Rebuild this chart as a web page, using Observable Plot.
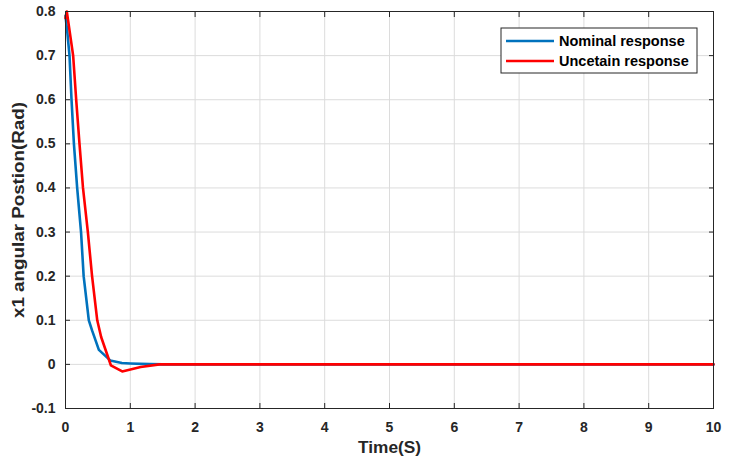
<!DOCTYPE html>
<html>
<head>
<meta charset="utf-8">
<script src="https://cdn.jsdelivr.net/npm/d3@7"></script>
<script src="https://cdn.jsdelivr.net/npm/@observablehq/plot@0.6"></script>
<style>
  html, body { margin: 0; padding: 0; background: #fff; }
  #chart { width: 730px; height: 462px; }
</style>
</head>
<body>
<div id="chart"></div>
<script>
// Nominal response (blue)
const nominalT = [0, 0.03, 0.062, 0.093, 0.13, 0.18, 0.24, 0.28, 0.36, 0.41, 0.515, 0.69, 0.87, 1.0, 1.3, 1.5, 10];
const nominalV = [0.79, 0.75, 0.70, 0.60, 0.50, 0.40, 0.30, 0.20, 0.10, 0.077, 0.033, 0.009, 0.003, 0.002, 0.0005, 0, 0];
// Uncertain response (red)
const uncertT = [0, 0.02, 0.118, 0.165, 0.216, 0.27, 0.345, 0.41, 0.49, 0.55, 0.70, 0.875, 1.16, 1.45, 10];
const uncertV = [0.785, 0.80, 0.70, 0.60, 0.50, 0.40, 0.30, 0.20, 0.10, 0.062, -0.002, -0.016, -0.006, 0, 0];

const seriesNames = ["Nominal response", "Uncetain response"];
const seriesColors = ["#0072BD", "#FF0000"];
const xTicks = [0, 1, 2, 3, 4, 5, 6, 7, 8, 9, 10];
const yTicks = [-0.1, 0, 0.1, 0.2, 0.3, 0.4, 0.5, 0.6, 0.7, 0.8];
const xLabel = "Time(S)";
const yLabel = "x1 angular Postion(Rad)";

const nominal = nominalT.map((t, i) => ({t, v: nominalV[i], s: seriesNames[0]}));
const uncert = uncertT.map((t, i) => ({t, v: uncertV[i], s: seriesNames[1]}));

const fmt = d => String(d);
const FONT = "'Liberation Sans', Arial, sans-serif";

const chart = Plot.plot({
  width: 730,
  height: 462,
  marginLeft: 65,
  marginRight: 17,
  marginTop: 11,
  marginBottom: 54,
  style: {fontFamily: FONT, fontSize: "14px", fontWeight: "bold", color: "#262626", background: "#fff"},
  x: {domain: [0, 10]},
  y: {domain: [-0.1, 0.8]},
  marks: [
    Plot.gridX(xTicks, {stroke: "#dcdcdc", strokeOpacity: 1}),
    Plot.gridY(yTicks, {stroke: "#dcdcdc", strokeOpacity: 1}),
    Plot.axisX(xTicks, {anchor: "bottom", tickSize: -5, tickPadding: 19, tickFormat: fmt, label: xLabel, labelAnchor: "center", labelArrow: "none", labelOffset: 44, fontSize: 14, fill: "#262626"}),
    Plot.axisX(xTicks, {anchor: "top", tickSize: -5, tickFormat: () => "", label: null}),
    Plot.axisY(yTicks, {anchor: "left", tickSize: -5, tickPadding: 15, tickFormat: fmt, label: yLabel, labelAnchor: "center", labelArrow: "none", labelOffset: 53, fontSize: 14, fill: "#262626"}),
    Plot.axisY(yTicks, {anchor: "right", tickSize: -5, tickFormat: () => "", label: null}),
    Plot.line(nominal, {x: "t", y: "v", stroke: seriesColors[0], strokeWidth: 2.6, curve: "linear"}),
    Plot.line(uncert, {x: "t", y: "v", stroke: seriesColors[1], strokeWidth: 2.6, curve: "linear"}),
    Plot.frame({stroke: "#262626", strokeWidth: 1})
  ]
});

document.getElementById("chart").appendChild(chart);

const svg = d3.select(chart);
svg.selectAll("[aria-label='x-axis label'] text")
  .style("font-size", "16px").style("font-weight", "bold")
  .attr("textLength", 63).attr("lengthAdjust", "spacingAndGlyphs");
svg.selectAll("[aria-label='y-axis label'] text")
  .style("font-size", "16px").style("font-weight", "bold")
  .attr("textLength", 216).attr("lengthAdjust", "spacingAndGlyphs");

// Legend inside the plot
const lg = svg.append("g").attr("class", "legend");
lg.append("rect").attr("x", 501).attr("y", 28).attr("width", 196).attr("height", 45)
  .attr("fill", "#fff").attr("stroke", "#262626").attr("stroke-width", 1);
seriesNames.forEach((name, i) => {
  const y = 41 + i * 20;
  lg.append("line").attr("x1", 506).attr("x2", 554).attr("y1", y).attr("y2", y)
    .attr("stroke", seriesColors[i]).attr("stroke-width", 2.6);
  lg.append("text").attr("x", 559).attr("y", y).attr("dy", "0.36em")
    .attr("text-anchor", "start")
    .attr("font-family", FONT).attr("font-size", 14.5)
    .attr("font-weight", "bold").attr("fill", "#000").text(name);
});
</script>
</body>
</html>
